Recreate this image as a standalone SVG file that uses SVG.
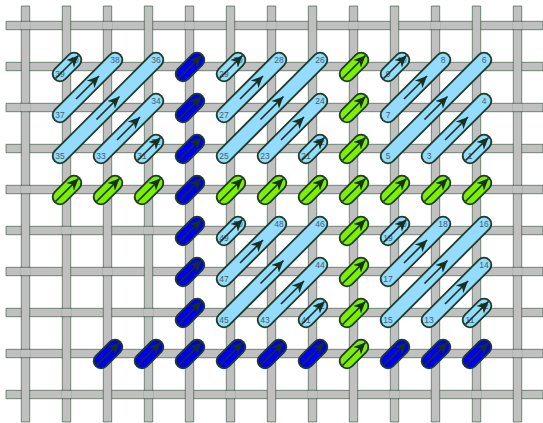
<svg xmlns="http://www.w3.org/2000/svg" width="543" height="423" viewBox="0 0 543 423">
<defs>
<marker id="ah" markerUnits="userSpaceOnUse" markerWidth="14" markerHeight="13" refX="12" refY="5.5" orient="auto"><path d="M0,0 L12,5.5 L0,11 L3.5,5.5 Z" fill="#16321f"/></marker>
<path id="h" d="M6 -4.2H543V4.2H6Z"/>
<path id="v" d="M-4.2 6H4.2V422H-4.2Z"/>
<g id="c"><rect x="-4.6" y="-3.9" width="9.2" height="7.8" fill="#c0c0c0"/><path d="M-4.6 -4.2H4.6M-4.6 4.2H4.6" stroke="#2b4a33" stroke-width="0.6" fill="none"/></g>
<line id="ps" x1="0" y1="0" x2="14" y2="-14"/>
<line id="pm" x1="0" y1="0" x2="55" y2="-55"/>
<line id="pl" x1="0" y1="0" x2="96" y2="-96"/>
<g id="Sl"><use href="#ps" class="o"/><use href="#ps" class="lb"/></g>
<g id="Ml"><use href="#pm" class="o"/><use href="#pm" class="lb"/></g>
<g id="Ll"><use href="#pl" class="o"/><use href="#pl" class="lb"/></g>
<g id="Sg"><use href="#ps" class="o"/><use href="#ps" class="gr"/></g>
<g id="Sb"><use href="#ps" class="o"/><use href="#ps" class="bl"/></g>
<line id="as" class="a" x1="-4.5" y1="4.5" x2="18.5" y2="-18.5"/>
<line id="am" class="a" x1="16" y1="-16" x2="39" y2="-39"/>
<line id="al" class="a" x1="36.5" y1="-36.5" x2="59.5" y2="-59.5"/>
</defs>
<style>
.g{fill:#c0c0c0;stroke:#2b4a33;stroke-width:0.6}
.o{fill:none;stroke:#1e3c28;stroke-width:16.5;stroke-linecap:round}
.lb{stroke:#94dcff;stroke-width:12.8;stroke-linecap:round;fill:none}
.gr{stroke:#7cf000;stroke-width:12.8;stroke-linecap:round;fill:none}
.bl{stroke:#0000f0;stroke-width:12.8;stroke-linecap:round;fill:none}
.a{stroke:#16321f;stroke-width:1.7;fill:none;marker-end:url(#ah)}
text{font-family:"Liberation Sans",Arial,sans-serif;font-size:8.5px;fill:#40606c;text-anchor:middle;dominant-baseline:central}
</style>
<g id="fabric">
<use href="#h" y="25.5" class="g"/><use href="#h" y="66.5" class="g"/><use href="#h" y="107.5" class="g"/><use href="#h" y="148.5" class="g"/><use href="#h" y="189.5" class="g"/><use href="#h" y="230.5" class="g"/><use href="#h" y="271.5" class="g"/><use href="#h" y="312.5" class="g"/><use href="#h" y="353.5" class="g"/><use href="#h" y="394.5" class="g"/>
<use href="#v" x="25.5" class="g"/><use href="#v" x="66.5" class="g"/><use href="#v" x="107.5" class="g"/><use href="#v" x="148.5" class="g"/><use href="#v" x="189.5" class="g"/><use href="#v" x="230.5" class="g"/><use href="#v" x="271.5" class="g"/><use href="#v" x="312.5" class="g"/><use href="#v" x="353.5" class="g"/><use href="#v" x="394.5" class="g"/><use href="#v" x="435.5" class="g"/><use href="#v" x="476.5" class="g"/><use href="#v" x="517.5" class="g"/>
<use href="#c" x="25.5" y="25.5"/><use href="#c" x="107.5" y="25.5"/><use href="#c" x="189.5" y="25.5"/><use href="#c" x="271.5" y="25.5"/><use href="#c" x="353.5" y="25.5"/><use href="#c" x="435.5" y="25.5"/><use href="#c" x="517.5" y="25.5"/>
<use href="#c" x="66.5" y="66.5"/><use href="#c" x="148.5" y="66.5"/><use href="#c" x="230.5" y="66.5"/><use href="#c" x="312.5" y="66.5"/><use href="#c" x="394.5" y="66.5"/><use href="#c" x="476.5" y="66.5"/>
<use href="#c" x="25.5" y="107.5"/><use href="#c" x="107.5" y="107.5"/><use href="#c" x="189.5" y="107.5"/><use href="#c" x="271.5" y="107.5"/><use href="#c" x="353.5" y="107.5"/><use href="#c" x="435.5" y="107.5"/><use href="#c" x="517.5" y="107.5"/>
<use href="#c" x="66.5" y="148.5"/><use href="#c" x="148.5" y="148.5"/><use href="#c" x="230.5" y="148.5"/><use href="#c" x="312.5" y="148.5"/><use href="#c" x="394.5" y="148.5"/><use href="#c" x="476.5" y="148.5"/>
<use href="#c" x="25.5" y="189.5"/><use href="#c" x="107.5" y="189.5"/><use href="#c" x="189.5" y="189.5"/><use href="#c" x="271.5" y="189.5"/><use href="#c" x="353.5" y="189.5"/><use href="#c" x="435.5" y="189.5"/><use href="#c" x="517.5" y="189.5"/>
<use href="#c" x="66.5" y="230.5"/><use href="#c" x="148.5" y="230.5"/><use href="#c" x="230.5" y="230.5"/><use href="#c" x="312.5" y="230.5"/><use href="#c" x="394.5" y="230.5"/><use href="#c" x="476.5" y="230.5"/>
<use href="#c" x="25.5" y="271.5"/><use href="#c" x="107.5" y="271.5"/><use href="#c" x="189.5" y="271.5"/><use href="#c" x="271.5" y="271.5"/><use href="#c" x="353.5" y="271.5"/><use href="#c" x="435.5" y="271.5"/><use href="#c" x="517.5" y="271.5"/>
<use href="#c" x="66.5" y="312.5"/><use href="#c" x="148.5" y="312.5"/><use href="#c" x="230.5" y="312.5"/><use href="#c" x="312.5" y="312.5"/><use href="#c" x="394.5" y="312.5"/><use href="#c" x="476.5" y="312.5"/>
<use href="#c" x="25.5" y="353.5"/><use href="#c" x="107.5" y="353.5"/><use href="#c" x="189.5" y="353.5"/><use href="#c" x="271.5" y="353.5"/><use href="#c" x="353.5" y="353.5"/><use href="#c" x="435.5" y="353.5"/><use href="#c" x="517.5" y="353.5"/>
<use href="#c" x="66.5" y="394.5"/><use href="#c" x="148.5" y="394.5"/><use href="#c" x="230.5" y="394.5"/><use href="#c" x="312.5" y="394.5"/><use href="#c" x="394.5" y="394.5"/><use href="#c" x="476.5" y="394.5"/>
</g>
<g id="stitches-light">
<g id="s39"><use href="#Sl" x="60" y="74"/><text x="60" y="74">39</text><text x="74" y="60">40</text></g>
<g id="s37"><use href="#Ml" x="60" y="115"/><text x="60" y="115">37</text><text x="115" y="60">38</text></g>
<g id="s35"><use href="#Ll" x="60" y="156"/><text x="60" y="156">35</text><text x="156" y="60">36</text></g>
<g id="s33"><use href="#Ml" x="101" y="156"/><text x="101" y="156">33</text><text x="156" y="101">34</text></g>
<g id="s31"><use href="#Sl" x="142" y="156"/><text x="142" y="156">31</text><text x="156" y="142">32</text></g>
<g id="s29"><use href="#Sl" x="224" y="74"/><text x="224" y="74">29</text><text x="238" y="60">30</text></g>
<g id="s27"><use href="#Ml" x="224" y="115"/><text x="224" y="115">27</text><text x="279" y="60">28</text></g>
<g id="s25"><use href="#Ll" x="224" y="156"/><text x="224" y="156">25</text><text x="320" y="60">26</text></g>
<g id="s23"><use href="#Ml" x="265" y="156"/><text x="265" y="156">23</text><text x="320" y="101">24</text></g>
<g id="s21"><use href="#Sl" x="306" y="156"/><text x="306" y="156">21</text><text x="320" y="142">22</text></g>
<g id="s9"><use href="#Sl" x="388" y="74"/><text x="388" y="74">9</text><text x="402" y="60">10</text></g>
<g id="s7"><use href="#Ml" x="388" y="115"/><text x="388" y="115">7</text><text x="443" y="60">8</text></g>
<g id="s5"><use href="#Ll" x="388" y="156"/><text x="388" y="156">5</text><text x="484" y="60">6</text></g>
<g id="s3"><use href="#Ml" x="429" y="156"/><text x="429" y="156">3</text><text x="484" y="101">4</text></g>
<g id="s1"><use href="#Sl" x="470" y="156"/><text x="470" y="156">1</text><text x="484" y="142">2</text></g>
<g id="s49"><use href="#Sl" x="224" y="238"/><text x="224" y="238">49</text><text x="238" y="224">50</text></g>
<g id="s47"><use href="#Ml" x="224" y="279"/><text x="224" y="279">47</text><text x="279" y="224">48</text></g>
<g id="s45"><use href="#Ll" x="224" y="320"/><text x="224" y="320">45</text><text x="320" y="224">46</text></g>
<g id="s43"><use href="#Ml" x="265" y="320"/><text x="265" y="320">43</text><text x="320" y="265">44</text></g>
<g id="s41"><use href="#Sl" x="306" y="320"/><text x="306" y="320">41</text><text x="320" y="306">42</text></g>
<g id="s19"><use href="#Sl" x="388" y="238"/><text x="388" y="238">19</text><text x="402" y="224">20</text></g>
<g id="s17"><use href="#Ml" x="388" y="279"/><text x="388" y="279">17</text><text x="443" y="224">18</text></g>
<g id="s15"><use href="#Ll" x="388" y="320"/><text x="388" y="320">15</text><text x="484" y="224">16</text></g>
<g id="s13"><use href="#Ml" x="429" y="320"/><text x="429" y="320">13</text><text x="484" y="265">14</text></g>
<g id="s11"><use href="#Sl" x="470" y="320"/><text x="470" y="320">11</text><text x="484" y="306">12</text></g>
</g>
<g id="stitches-green">
<use id="g1" href="#Sg" x="60" y="197"/><use id="g2" href="#Sg" x="101" y="197"/><use id="g3" href="#Sg" x="142" y="197"/><use id="g4" href="#Sg" x="224" y="197"/><use id="g5" href="#Sg" x="265" y="197"/><use id="g6" href="#Sg" x="306" y="197"/><use id="g7" href="#Sg" x="347" y="197"/><use id="g8" href="#Sg" x="388" y="197"/><use id="g9" href="#Sg" x="429" y="197"/><use id="g10" href="#Sg" x="470" y="197"/>
<use id="g11" href="#Sg" x="347" y="74"/><use id="g12" href="#Sg" x="347" y="115"/><use id="g13" href="#Sg" x="347" y="156"/><use id="g14" href="#Sg" x="347" y="238"/><use id="g15" href="#Sg" x="347" y="279"/><use id="g16" href="#Sg" x="347" y="320"/><use id="g17" href="#Sg" x="347" y="361"/>
</g>
<g id="stitches-blue">
<use id="b1" href="#Sb" x="183" y="74"/><use id="b2" href="#Sb" x="183" y="115"/><use id="b3" href="#Sb" x="183" y="156"/><use id="b4" href="#Sb" x="183" y="197"/><use id="b5" href="#Sb" x="183" y="238"/><use id="b6" href="#Sb" x="183" y="279"/><use id="b7" href="#Sb" x="183" y="320"/><use id="b8" href="#Sb" x="183" y="361"/>
<use id="b9" href="#Sb" x="101" y="361"/><use id="b10" href="#Sb" x="142" y="361"/><use id="b11" href="#Sb" x="224" y="361"/><use id="b12" href="#Sb" x="265" y="361"/><use id="b13" href="#Sb" x="306" y="361"/><use id="b14" href="#Sb" x="388" y="361"/><use id="b15" href="#Sb" x="429" y="361"/><use id="b16" href="#Sb" x="470" y="361"/>
</g>
<g id="connectors">
<use href="#as" x="60" y="74"/><use href="#am" x="60" y="115"/><use href="#al" x="60" y="156"/><use href="#am" x="101" y="156"/><use href="#as" x="142" y="156"/>
<use href="#as" x="224" y="74"/><use href="#am" x="224" y="115"/><use href="#al" x="224" y="156"/><use href="#am" x="265" y="156"/><use href="#as" x="306" y="156"/>
<use href="#as" x="388" y="74"/><use href="#am" x="388" y="115"/><use href="#al" x="388" y="156"/><use href="#am" x="429" y="156"/><use href="#as" x="470" y="156"/>
<use href="#as" x="224" y="238"/><use href="#am" x="224" y="279"/><use href="#al" x="224" y="320"/><use href="#am" x="265" y="320"/><use href="#as" x="306" y="320"/>
<use href="#as" x="388" y="238"/><use href="#am" x="388" y="279"/><use href="#al" x="388" y="320"/><use href="#am" x="429" y="320"/><use href="#as" x="470" y="320"/>
<use href="#as" x="60" y="197"/><use href="#as" x="101" y="197"/><use href="#as" x="142" y="197"/><use href="#as" x="224" y="197"/><use href="#as" x="265" y="197"/><use href="#as" x="306" y="197"/><use href="#as" x="347" y="197"/><use href="#as" x="388" y="197"/><use href="#as" x="429" y="197"/><use href="#as" x="470" y="197"/>
<use href="#as" x="347" y="74"/><use href="#as" x="347" y="115"/><use href="#as" x="347" y="156"/><use href="#as" x="347" y="238"/><use href="#as" x="347" y="279"/><use href="#as" x="347" y="320"/><use href="#as" x="347" y="361"/>
<use href="#as" x="183" y="74"/><use href="#as" x="183" y="115"/><use href="#as" x="183" y="156"/><use href="#as" x="183" y="197"/><use href="#as" x="183" y="238"/><use href="#as" x="183" y="279"/><use href="#as" x="183" y="320"/><use href="#as" x="183" y="361"/>
<use href="#as" x="101" y="361"/><use href="#as" x="142" y="361"/><use href="#as" x="224" y="361"/><use href="#as" x="265" y="361"/><use href="#as" x="306" y="361"/><use href="#as" x="388" y="361"/><use href="#as" x="429" y="361"/><use href="#as" x="470" y="361"/>
</g>
</svg>
